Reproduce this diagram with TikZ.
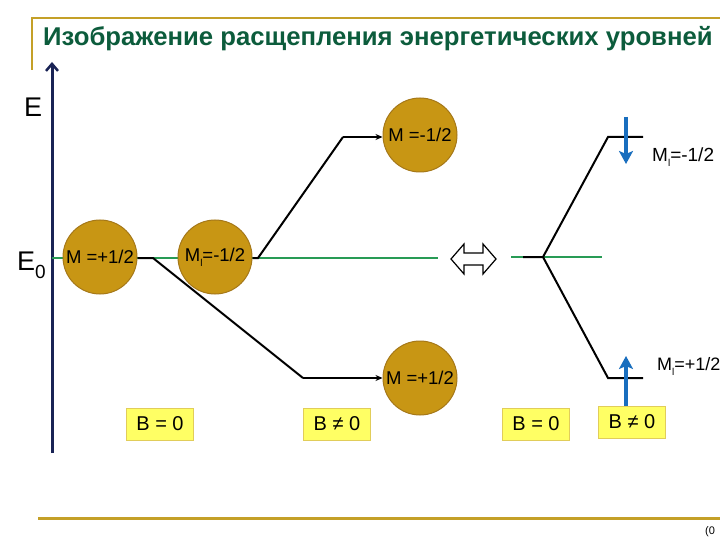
\documentclass[tikz,border=0pt]{standalone}
\usepackage{fontspec}
\setmainfont{Liberation Sans}
\usetikzlibrary{arrows.meta}
\definecolor{gold}{RGB}{196,160,40}
\definecolor{titlegreen}{RGB}{12,92,60}
\definecolor{navy}{RGB}{25,35,85}
\definecolor{levelgreen}{RGB}{40,155,85}
\definecolor{ballfill}{RGB}{200,150,20}
\definecolor{balledge}{RGB}{165,120,25}
\definecolor{boxyellow}{RGB}{255,255,100}
\definecolor{boxedge}{RGB}{225,205,90}
\definecolor{spinblue}{RGB}{25,110,190}
\newcommand{\Mlsub}{M\raisebox{-0.28em}{\fontsize{10}{10}\selectfont l}}
\tikzset{
  ball/.style={circle, fill=ballfill, draw=balledge, line width=1, minimum size=74, inner sep=0, font=\fontsize{18.5}{20}\selectfont},
  bbox/.style={rectangle, fill=boxyellow, draw=boxedge, line width=0.8, minimum width=67, minimum height=32, inner sep=0, font=\fontsize{20}{22}\selectfont},
  lvl/.style={black, line width=2},
  grn/.style={levelgreen, line width=2.2},
  spin/.style={spinblue, line width=4, -{Stealth[length=13,width=14,inset=3]}},
  lbl/.style={font=\fontsize{19}{21}\selectfont, inner sep=0},
}
\begin{document}
\begin{tikzpicture}[x=1pt,y=-1pt]
\useasboundingbox (0,0) rectangle (720,540);
\fill[white] (0,0) rectangle (720,540);
% frame lines
\draw[gold, line width=2.5] (32,70) -- (32,18) -- (720,18);
\draw[gold, line width=3] (38,518) -- (720,518);
% title
\node[anchor=base west, inner sep=0, text=titlegreen, font=\bfseries\fontsize{25.7}{30}\selectfont] (title) at (43,46) {Изображение расщепления энергетических уровней};
% axis
\coordinate (axb) at (52,453);
\coordinate (axt) at (52,62);
\draw[navy, line width=3, -{Straight Barb[length=7,width=12,line width=2.5]}] (axb) -- (axt);
\node[anchor=base west, inner sep=0, font=\fontsize{27}{30}\selectfont] (E) at (24,117) {E};
\node[anchor=base west, inner sep=0, font=\fontsize{27}{30}\selectfont] (E0) at (17,270) {E\raisebox{-0.3em}{\fontsize{19}{20}\selectfont 0}};
% green levels
\coordinate (g1a) at (52,258);
\coordinate (g1b) at (438,258);
\draw[grn] (g1a) -- (g1b);
\coordinate (g2a) at (511,257);
\coordinate (g2b) at (602,257);
\draw[grn] (g2a) -- (g2b);
% balls
\node[ball] (c1) at (100,257) {M =+1/2};
\node[ball] (c2) at (215,257) {\Mlsub=-1/2};
\node[ball] (c3) at (420,135) {M =-1/2};
\node[ball] (c4) at (420,378) {M =+1/2};
% splitting lines, left
\coordinate (s1) at (153,258);
\coordinate (d1) at (303,378);
\coordinate (s2) at (258,258);
\coordinate (u1) at (343,137);
\draw[lvl] (c1.east |- s1) -- (s1) -- (d1);
\draw[lvl, -{Stealth[length=7,width=6]}] (d1) -- (c4.west);
\draw[lvl] (c2.east |- s2) -- (s2) -- (u1);
\draw[lvl, -{Stealth[length=7,width=6]}] (u1) -- (c3.west |- u1);
% double arrow
\draw[black, line width=1.2, fill=white, line join=miter] (451,259) -- (464,244) -- (464,253) -- (483,253) -- (483,244) -- (496,259) -- (483,274) -- (483,265) -- (464,265) -- (464,274) -- cycle;
% right splitting
\coordinate (r0) at (523,257);
\coordinate (s3) at (543,257);
\coordinate (ru) at (608,137);
\coordinate (rue) at (643,137);
\coordinate (rd) at (608,378);
\coordinate (rde) at (643,378);
\draw[lvl] (r0) -- (s3) -- (ru) -- (rue);
\draw[lvl] (s3) -- (rd) -- (rde);
% spin arrows
\coordinate (a1s) at (626,117);
\coordinate (a1e) at (626,164);
\coordinate (a2s) at (626,406);
\coordinate (a2e) at (626,356);
\draw[spin] (a1s) -- (a1e);
\draw[spin] (a2s) -- (a2e);
\node[lbl, anchor=west] (m1) at (652,157) {\Mlsub=-1/2};
\node[lbl, anchor=west, font=\fontsize{18}{20}\selectfont] (m2) at (657,366) {\Mlsub=+1/2};
% B boxes
\node[bbox] (b1) at (160,424) {B = 0};
\node[bbox] (b2) at (337,424) {B ≠ 0};
\node[bbox] (b3) at (536,424) {B = 0};
\node[bbox] (b4) at (632,422) {B ≠ 0};
% page number at bottom right
\node[anchor=north west, inner sep=0, font=\fontsize{11}{12}\selectfont] (pg) at (705,526) {(0};
\end{tikzpicture}
\end{document}
